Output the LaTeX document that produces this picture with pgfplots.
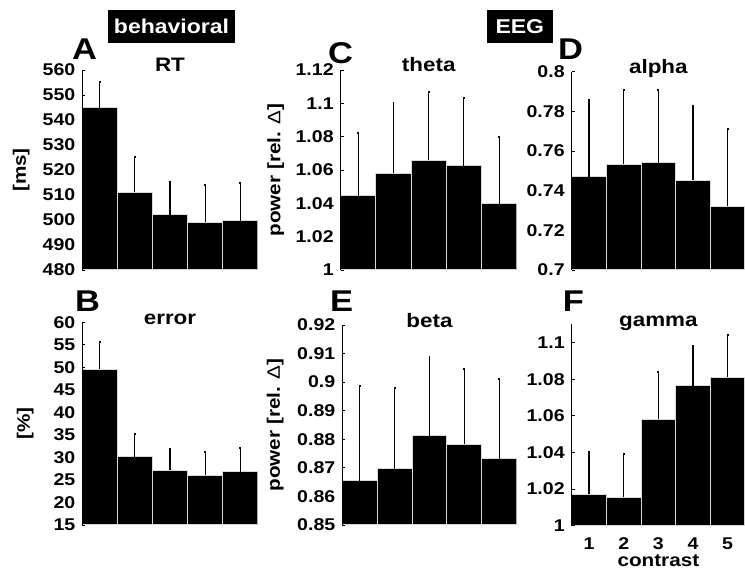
\documentclass[border=0pt]{standalone}
\usepackage{fontspec}
\setmainfont{Liberation Sans}[FakeStretch=1.15]
\usepackage{pgfplots}
\pgfplotsset{compat=1.18}
\newcommand{\fs}[1]{\fontsize{#1}{#1}\selectfont}
\pgfplotsset{
  panel/.style={
    scale only axis, axis on top, axis lines*=left,
    x axis line style={draw=none},
    y axis line style={black, line width=0.9pt},
    xtick=\empty, xtick style={draw=none},
    ytick style={black, line width=0.9pt},
    tick align=inside, major tick length=3pt,
    xmin=0.5, xmax=5.5, ybar, bar width=1,
    /pgf/number format/assume math mode=true,
    tick label style={font=\fs{17}\bfseries},
    yticklabel style={xshift=-3.5pt},
    title style={at={(axis description cs:0.5,1)}, anchor=base, yshift=-8pt, font=\fs{19.5}\bfseries},
  },
  ylab/.style={every axis y label/.style={at={([xshift=#1]axis description cs:0,0.5)}, rotate=90, anchor=center, font=\fs{18}\bfseries}},
  barplot/.style={fill=black, draw=black!15, line width=1pt,
    error bars/.cd, y dir=plus, y explicit,
    error bar style={black, line width=1.1pt},
    error mark options={black, mark size=1pt, line width=1.8pt}},
}
\pgfplotstableread{
x y e
1 544.9 10.3
2 511.1 14.1
3 502.0 13.2
4 499.1 14.8
5 499.7 15.2
}\dataRT
\pgfplotstableread{
x y e
1 49.6 6.1
2 30.1 5.1
3 27.2 4.7
4 26.0 5.3
5 26.8 5.3
}\dataErr
\pgfplotstableread{
x y e
1 1.0444 0.0380
2 1.0580 0.0422
3 1.0658 0.0408
4 1.0624 0.0408
5 1.0398 0.0402
}\dataTheta
\pgfplotstableread{
x y e
1 0.7470 0.0388
2 0.7533 0.0373
3 0.7542 0.0364
4 0.7453 0.0376
5 0.7321 0.0391
}\dataAlpha
\pgfplotstableread{
x y e
1 0.8655 0.0330
2 0.8696 0.0285
3 0.8813 0.0276
4 0.8782 0.0263
5 0.8732 0.0280
}\dataBeta
\pgfplotstableread{
x y e
1 1.0171 0.0232
2 1.0155 0.0238
3 1.0581 0.0259
4 1.0765 0.0215
5 1.0811 0.0231
}\dataGamma
\begin{document}
\begin{tikzpicture}
\useasboundingbox (0pt,0pt) rectangle (745pt,573pt);
% A
\begin{axis}[panel, at={(82.3pt,303pt)}, anchor=south west, width=175.4pt, height=200pt,
  ymin=480, ymax=560, ytick={480,490,500,510,520,530,540,550,560},
  title={RT}, ylabel={[ms]}, ylab=-61pt]
\addplot[barplot] table[x=x, y=y, y error=e] {\dataRT};
\end{axis}
% C
\begin{axis}[panel, at={(340.7pt,303pt)}, anchor=south west, width=176pt, height=200pt,
  ymin=1, ymax=1.12, ytick={1,1.02,1.04,1.06,1.08,1.1,1.12},
  yticklabels={1,1.02,1.04,1.06,1.08,1.1,1.12},
  title={theta}, ylabel={power [rel. {\mdseries Δ}]}, ylab=-65pt]
\addplot[barplot] table[x=x, y=y, y error=e] {\dataTheta};
\end{axis}
% D
\begin{axis}[panel, at={(571.7pt,303pt)}, anchor=south west, width=173.3pt, height=198.3pt,
  ymin=0.7, ymax=0.8, ytick={0.7,0.72,0.74,0.76,0.78,0.8},
  yticklabels={0.7,0.72,0.74,0.76,0.78,0.8},
  title={alpha}]
\addplot[barplot] table[x=x, y=y, y error=e] {\dataAlpha};
\end{axis}
% B
\begin{axis}[panel, at={(82.3pt,48pt)}, anchor=south west, width=175.4pt, height=202.7pt,
  ymin=15, ymax=60, ytick={15,20,25,30,35,40,45,50,55,60},
  title={error}, ylabel={[\%]}, ylab=-57pt]
\addplot[barplot] table[x=x, y=y, y error=e] {\dataErr};
\end{axis}
% E
\begin{axis}[panel, at={(342.3pt,48pt)}, anchor=south west, width=174.4pt, height=200pt,
  ymin=0.85, ymax=0.92, ytick={0.85,0.86,0.87,0.88,0.89,0.9,0.91,0.92},
  yticklabels={0.85,0.86,0.87,0.88,0.89,0.9,0.91,0.92},
  title={beta}, ylabel={power [rel. {\mdseries Δ}]}, ylab=-67pt]
\addplot[barplot] table[x=x, y=y, y error=e] {\dataBeta};
\end{axis}
% F
\begin{axis}[panel, at={(571.7pt,47.3pt)}, anchor=south west, width=173.3pt, height=201.4pt,
  ymin=1, ymax=1.11, ytick={1,1.02,1.04,1.06,1.08,1.1},
  yticklabels={1,1.02,1.04,1.06,1.08,1.1},
  xtick={1,2,3,4,5}, xticklabels={1,2,3,4,5}, xticklabel style={yshift=-5.5pt},
  xlabel={contrast}, xlabel style={at={(axis description cs:0.5,0)}, anchor=base, yshift=-41pt, font=\fs{18}\bfseries},
  title={gamma}]
\addplot[barplot] table[x=x, y=y, y error=e] {\dataGamma};
\end{axis}
% panel letters
\begin{scope}[every node/.style={font=\fs{30}\bfseries, anchor=base west, inner sep=0pt}]
\node at (72pt,513pt) {A};
\node at (75pt,261.3pt) {B};
\node at (328pt,509.7pt) {C};
\node at (558pt,513.7pt) {D};
\node at (330pt,261.3pt) {E};
\node at (562.7pt,261.3pt) {F};
\end{scope}
% headers
\node[fill=black, text=white, font=\fs{20}\bfseries, minimum width=127pt, minimum height=33pt, inner sep=0pt] at (171.5pt,546.5pt) {behavioral};
\node[fill=black, text=white, font=\fs{20}\bfseries, minimum width=66.5pt, minimum height=33pt, inner sep=0pt] at (519.8pt,546.5pt) {EEG};
\end{tikzpicture}
\end{document}
